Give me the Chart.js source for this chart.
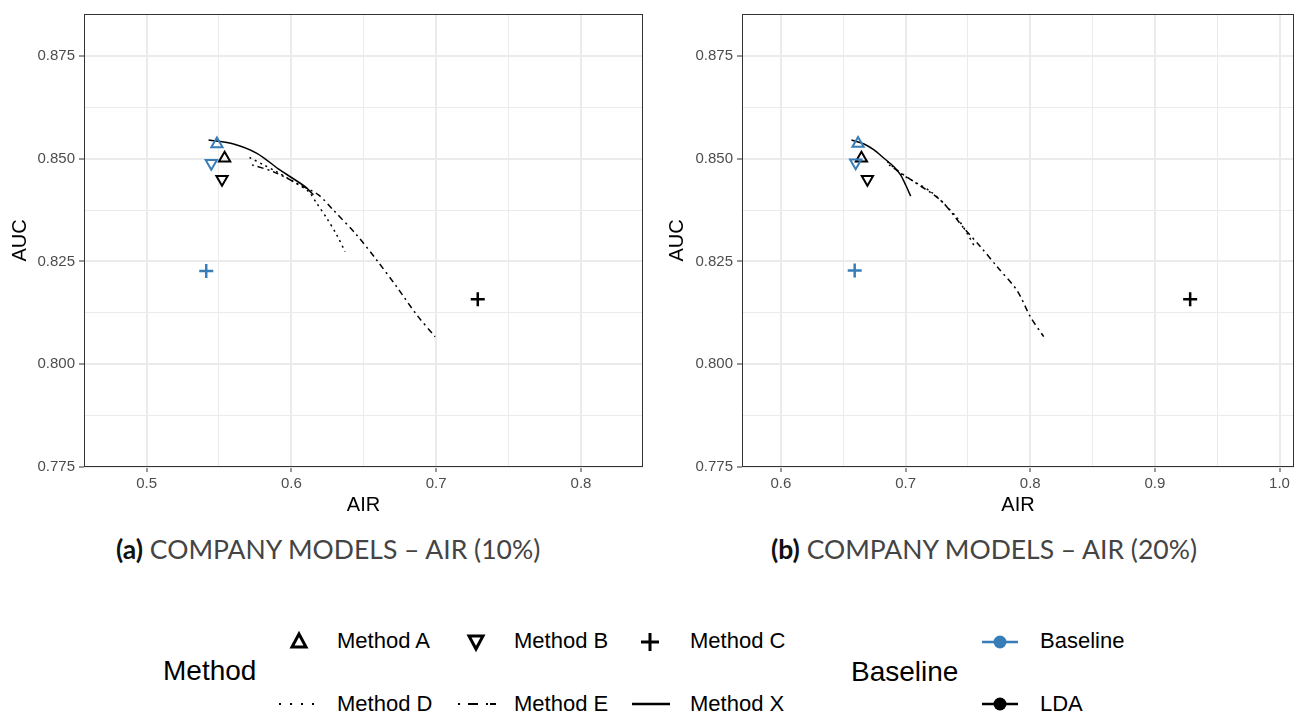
<!DOCTYPE html>
<html>
<head>
<meta charset="utf-8">
<script src="https://cdn.jsdelivr.net/npm/chart.js@4.4.0/dist/chart.umd.min.js"></script>
<style>
body { margin:0; background:#fff; width:1294px; height:713px; overflow:hidden; position:relative; font-family:"Liberation Sans", Arial, sans-serif; }
canvas { position:absolute; top:0; }
#c10 { left:0; }
#c20 { left:657px; }
.cap { position:absolute; top:535px; font-family:Lato, sans-serif; font-size:26.5px; line-height:28px; color:#444; white-space:nowrap; }
.cap b { color:#111; }
.lg { position:absolute; white-space:nowrap; color:#000; font-size:22px; line-height:22px; }
.lt { position:absolute; white-space:nowrap; color:#000; font-size:28px; line-height:28px; }
svg { position:absolute; overflow:visible; }
</style>
</head>
<body>
<canvas id="c10" width="657" height="520"></canvas>
<canvas id="c20" width="637" height="520"></canvas>

<div class="cap" style="left:116px"><b>(a)</b> COMPANY MODELS – AIR (10%)</div>
<div class="cap" style="left:771px"><b>(b)</b> COMPANY MODELS – AIR (20%)</div>

<!-- legend: Method -->
<div class="lt" style="left:163px;top:657px">Method</div>
<svg style="left:288px;top:630px" width="24" height="24"><polygon points="11,4 18,17 4,17" fill="none" stroke="#000" stroke-width="3"/></svg>
<div class="lg" style="left:337px;top:630px">Method A</div>
<svg style="left:464px;top:630px" width="24" height="24"><polygon points="5,6 19,6 12,19" fill="none" stroke="#000" stroke-width="3"/></svg>
<div class="lg" style="left:514px;top:630px">Method B</div>
<svg style="left:638px;top:630px" width="24" height="24"><path d="M12,3 V21 M3,12 H21" stroke="#000" stroke-width="3"/></svg>
<div class="lg" style="left:690px;top:630px">Method C</div>
<svg style="left:278px;top:692px" width="40" height="24"><line x1="1" y1="12" x2="39" y2="12" stroke="#000" stroke-width="2" stroke-dasharray="2,9"/></svg>
<div class="lg" style="left:337px;top:693px">Method D</div>
<svg style="left:457px;top:692px" width="40" height="24"><line x1="1" y1="12" x2="39" y2="12" stroke="#000" stroke-width="2" stroke-dasharray="2,8,10,8,2"/></svg>
<div class="lg" style="left:514px;top:693px">Method E</div>
<svg style="left:632px;top:692px" width="40" height="24"><line x1="0" y1="12" x2="38" y2="12" stroke="#000" stroke-width="2.5"/></svg>
<div class="lg" style="left:690px;top:693px">Method X</div>

<!-- legend: Baseline -->
<div class="lt" style="left:851px;top:658px">Baseline</div>
<svg style="left:981px;top:630px" width="40" height="24"><line x1="1" y1="12" x2="37" y2="12" stroke="#377eb8" stroke-width="2.5"/><circle cx="19" cy="12" r="6.5" fill="#377eb8"/></svg>
<div class="lg" style="left:1040px;top:630px">Baseline</div>
<svg style="left:981px;top:692px" width="40" height="24"><line x1="1" y1="12" x2="37" y2="12" stroke="#000" stroke-width="2.5"/><circle cx="19" cy="12" r="6.5" fill="#000"/></svg>
<div class="lg" style="left:1040px;top:693px">LDA</div>

<script>
// marker order: Method A, Method B, Method C
var methods = ['Method A', 'Method B', 'Method C'];

// ---- panel (a) AIR 10% ----
var baseAir10 = [0.5486, 0.5447, 0.5412];
var baseAuc10 = [0.8536, 0.8489, 0.8227];
var ldaAir10 = [0.5539, 0.5521, 0.7287];
var ldaAuc10 = [0.8501, 0.8450, 0.8158];
var dAir10 = [0.5711, 0.5808, 0.5900, 0.6014, 0.6118, 0.6176, 0.6245, 0.6314, 0.6371];
var dAuc10 = [0.8503, 0.8485, 0.8468, 0.8444, 0.8420, 0.8391, 0.8355, 0.8314, 0.8274];
var eAir10 = [0.5728, 0.5877, 0.6061, 0.6187, 0.6290, 0.6452, 0.6590, 0.6728, 0.6866, 0.6992];
var eAuc10 = [0.8485, 0.8468, 0.8436, 0.8412, 0.8375, 0.8314, 0.8253, 0.8188, 0.8120, 0.8067];
var xAir10 = [0.5428, 0.5601, 0.5762, 0.5923, 0.6095, 0.6152];
var xAuc10 = [0.85455, 0.85358, 0.8513, 0.8472, 0.8432, 0.8412];

// ---- panel (b) AIR 20% ----
var baseAir20 = [0.6619, 0.6600, 0.6592];
var baseAuc20 = [0.8537, 0.8490, 0.8228];
var ldaAir20 = [0.6646, 0.6694, 0.9283];
var ldaAuc20 = [0.8501, 0.8450, 0.8158];
var dAir20 = [0.6854, 0.6961, 0.7094, 0.7201, 0.7307, 0.7415, 0.7495, 0.7561];
var dAuc20 = [0.8493, 0.8464, 0.8440, 0.8420, 0.8391, 0.8355, 0.8318, 0.8282];
var eAir20 = [0.6867, 0.7067, 0.7281, 0.7468, 0.7601, 0.7735, 0.7895, 0.8002, 0.8108];
var eAuc20 = [0.8485, 0.8444, 0.8399, 0.8331, 0.8286, 0.8237, 0.8179, 0.8115, 0.8067];
var xAir20 = [0.6566, 0.6667, 0.6747, 0.6827, 0.6907, 0.6961, 0.7001, 0.7041];
var xAuc20 = [0.85455, 0.85358, 0.85212, 0.8501, 0.84805, 0.8460, 0.8436, 0.8409];

// axes
var yTicks = [0.775, 0.7875, 0.8, 0.8125, 0.825, 0.8375, 0.85, 0.8625, 0.875];
var yRange = [0.775, 0.8852];
var xTicks10 = [0.5, 0.55, 0.6, 0.65, 0.7, 0.75, 0.8];
var xRange10 = [0.4568, 0.8428];
var xTicks20 = [0.6, 0.65, 0.7, 0.75, 0.8, 0.85, 0.9, 0.95, 1.0];
var xRange20 = [0.5688, 1.0116];

var BLUE = '#377eb8';
var shapes = ['triangle', 'triangle', 'cross'];
var rots = [0, 180, 0];
var sizes = [6.5, 6.5, 7];

function zip(xs, ys) {
    return xs.map(function (v, i) { return {x: v, y: ys[i]}; });
}
function isMajorX(v) { return Math.abs(v * 10 - Math.round(v * 10)) < 1e-6; }
function isMajorY(v) { return Math.abs(v * 40 - Math.round(v * 40)) < 1e-6; }

function pointSets(air, auc, color) {
    return methods.map(function (m, i) {
        return {
            label: m,
            data: [{x: air[i], y: auc[i]}],
            pointStyle: shapes[i],
            pointRotation: rots[i],
            pointRadius: sizes[i],
            pointBorderWidth: i == 2 ? 2.5 : 2,
            pointBorderColor: color,
            pointBackgroundColor: 'rgba(0,0,0,0)',
            showLine: false
        };
    });
}
function lineSet(label, air, auc, dash) {
    return {
        label: label,
        data: zip(air, auc),
        showLine: true,
        pointRadius: 0,
        borderColor: '#000',
        borderWidth: 1.5,
        borderDash: dash,
        tension: 0.3
    };
}

// panel border like ggplot theme_bw
var frame = {
    id: 'frame',
    afterDraw: function (chart) {
        var a = chart.chartArea, ctx = chart.ctx;
        ctx.save();
        ctx.strokeStyle = '#333';
        ctx.lineWidth = 1;
        ctx.strokeRect(a.left + 0.5, a.top + 0.5, a.right - a.left - 1, a.bottom - a.top - 1);
        ctx.restore();
    }
};

function makeChart(id, xTicks, xRange, yWidth, padRight, sets) {
    var ctx = document.getElementById(id).getContext('2d');
    return new Chart(ctx, {
        type: 'scatter',
        data: {datasets: sets},
        plugins: [frame],
        options: {
            responsive: false,
            animation: false,
            events: [],
            layout: {autoPadding: false, padding: {top: 14, right: padRight, left: 0, bottom: 0}},
            plugins: {legend: {display: false}, tooltip: {enabled: false}},
            scales: {
                x: {
                    type: 'linear', min: xRange[0], max: xRange[1],
                    afterBuildTicks: function (s) { s.ticks = xTicks.map(function (v) { return {value: v}; }); },
                    afterFit: function (s) { s.height = 53; s.paddingLeft = 0; s.paddingRight = 0; },
                    border: {display: false},
                    grid: {
                        color: '#ebebeb',
                        lineWidth: function (c) { return isMajorX(c.tick.value) ? 2 : 1; },
                        tickColor: function (c) { return isMajorX(c.tick.value) ? '#333' : 'rgba(0,0,0,0)'; },
                        tickLength: 5, tickWidth: 1
                    },
                    ticks: {
                        autoSkip: false, maxRotation: 0, padding: 3, color: '#4d4d4d',
                        font: {size: 15, family: 'Liberation Sans'},
                        callback: function (v) { return isMajorX(v) ? v.toFixed(1) : ''; }
                    },
                    title: {display: true, text: 'AIR', color: '#000', font: {size: 20, family: 'Liberation Sans'}, padding: {top: 0, bottom: 3}}
                },
                y: {
                    type: 'linear', min: yRange[0], max: yRange[1],
                    afterBuildTicks: function (s) { s.ticks = yTicks.map(function (v) { return {value: v}; }); },
                    afterFit: function (s) { s.width = yWidth; s.paddingTop = 0; s.paddingBottom = 0; },
                    border: {display: false},
                    grid: {
                        color: '#ebebeb',
                        lineWidth: function (c) { return isMajorY(c.tick.value) ? 2 : 1; },
                        tickColor: function (c) { return isMajorY(c.tick.value) ? '#333' : 'rgba(0,0,0,0)'; },
                        tickLength: 5, tickWidth: 1
                    },
                    ticks: {
                        autoSkip: false, padding: 4, color: '#4d4d4d',
                        font: {size: 15, family: 'Liberation Sans'},
                        callback: function (v) { return isMajorY(v) ? v.toFixed(3) : ''; }
                    },
                    title: {display: true, text: 'AUC', color: '#000', font: {size: 20, family: 'Liberation Sans'}, padding: {top: 8, bottom: 0}}
                }
            }
        }
    });
}

var sets10 = pointSets(baseAir10, baseAuc10, BLUE)
    .concat(pointSets(ldaAir10, ldaAuc10, '#000'))
    .concat([lineSet('Method D', dAir10, dAuc10, [2, 4]),
             lineSet('Method E', eAir10, eAuc10, [2, 4, 6, 4]),
             lineSet('Method X', xAir10, xAuc10, [])]);
var sets20 = pointSets(baseAir20, baseAuc20, BLUE)
    .concat(pointSets(ldaAir20, ldaAuc20, '#000'))
    .concat([lineSet('Method D', dAir20, dAuc20, [2, 4]),
             lineSet('Method E', eAir20, eAuc20, [2, 4, 6, 4]),
             lineSet('Method X', xAir20, xAuc20, [])]);

makeChart('c10', xTicks10, xRange10, 84, 14, sets10);
makeChart('c20', xTicks20, xRange20, 85, 0, sets20);
</script>
</body>
</html>
